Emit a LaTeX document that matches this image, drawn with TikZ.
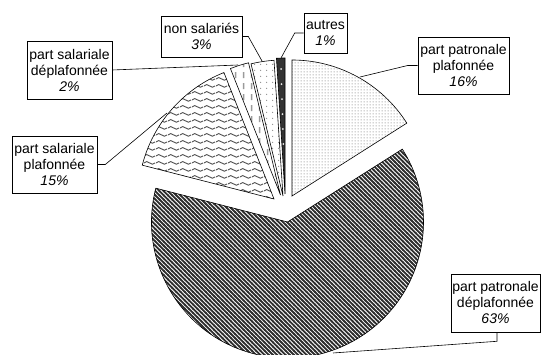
\documentclass[tikz,border=0pt]{standalone}
\usepackage{fontspec}
\setmainfont{Liberation Sans}
\usetikzlibrary{patterns}
\definecolor{stripegray}{HTML}{2E2E2E}
\definecolor{dotgray}{HTML}{8C8C8C}
\definecolor{wavegray}{HTML}{4E4E4E}
\definecolor{dashgray}{HTML}{9A9A9A}
\definecolor{darkstrip}{HTML}{333333}
\pgfdeclarepatternformonly{fineDots}{\pgfpointorigin}{\pgfqpoint{3pt}{3pt}}{\pgfqpoint{3pt}{3pt}}{%
  \pgfpathcircle{\pgfqpoint{1.5pt}{1.5pt}}{0.7pt}\pgfusepath{fill}}
\pgfdeclarepatternformonly{sparseDots}{\pgfpointorigin}{\pgfqpoint{6pt}{6pt}}{\pgfqpoint{6pt}{6pt}}{%
  \pgfpathcircle{\pgfqpoint{3pt}{3pt}}{0.8pt}\pgfusepath{fill}}
\pgfdeclarepatternformonly{nwStripes}{\pgfqpoint{-1pt}{-1pt}}{\pgfqpoint{5.2pt}{5.2pt}}{\pgfqpoint{4.2pt}{4.2pt}}{%
  \pgfsetlinewidth{1.8pt}\pgfpathmoveto{\pgfqpoint{-0.5pt}{4.7pt}}\pgfpathlineto{\pgfqpoint{4.7pt}{-0.5pt}}\pgfusepath{stroke}}
\pgfdeclarepatternformonly{waveRows}{\pgfpointorigin}{\pgfqpoint{12pt}{7pt}}{\pgfqpoint{12pt}{7pt}}{%
  \pgfsetlinewidth{1pt}\pgfpathmoveto{\pgfqpoint{0pt}{3.5pt}}%
  \pgfpathsine{\pgfpoint{3pt}{1.5pt}}\pgfpathcosine{\pgfpoint{3pt}{-1.5pt}}%
  \pgfpathsine{\pgfpoint{3pt}{-1.5pt}}\pgfpathcosine{\pgfpoint{3pt}{1.5pt}}\pgfusepath{stroke}}
\pgfdeclarepatternformonly{vDashes}{\pgfpointorigin}{\pgfqpoint{8pt}{11pt}}{\pgfqpoint{8pt}{11pt}}{%
  \pgfsetlinewidth{1.5pt}\pgfpathmoveto{\pgfqpoint{4pt}{2pt}}\pgfpathlineto{\pgfqpoint{4pt}{8.5pt}}\pgfusepath{stroke}}
\begin{document}
\begin{tikzpicture}[x=1pt,y=1pt,
  slice/.style={draw=black, line width=0.6pt},
  lbl/.style={draw=black, fill=white, line width=0.6pt, align=center,
    font=\fontsize{14}{16}\selectfont, inner sep=0pt},
  leader/.style={draw=black, line width=0.6pt}]
\useasboundingbox (0,0) rectangle (541,355);
% 63 %
\path[slice, pattern=nwStripes, pattern color=stripegray]
  (287.5,133) -- ++(165.6:136) arc[start angle=165.6, end angle=392.4, radius=136] -- cycle;
% 16 %
\path[slice, pattern=fineDots, pattern color=dotgray]
  (292,159) -- ++(32.4:136) arc[start angle=32.4, end angle=90, radius=136] -- cycle;
% 15 %
\path[slice, pattern=waveRows, pattern color=wavegray]
  (274,156) -- ++(111.6:136) arc[start angle=111.6, end angle=165.6, radius=136] -- cycle;
% 2 %
\path[slice, pattern=vDashes, pattern color=dashgray]
  (280.5,160) -- ++(103.6:136) arc[start angle=103.6, end angle=111.6, radius=136] -- cycle;
% 3 %
\path[slice, pattern=sparseDots, pattern color=dotgray]
  (283,159) -- ++(93.8:136) arc[start angle=93.8, end angle=103.6, radius=136] -- cycle;
% 1 %
\path[slice, fill=darkstrip]
  (285,161) -- ++(90:136) arc[start angle=90, end angle=93.6, radius=136] -- cycle;
\foreach \d in {125,110,95,80,65,50} {
  \fill[white!85!gray] (285,161) ++(91.8:\d) circle[radius=1pt];
}
% label boxes
\node[lbl, minimum width=81pt, minimum height=41pt] (lns) at (201.5,318.5) {non salariés\\\textit{3\%}};
\node[lbl, minimum width=43pt, minimum height=40pt] (lau) at (325.5,322) {autres\\\textit{1\%}};
\node[lbl, minimum width=91pt, minimum height=57pt] (lpp) at (463.5,289.5) {part patronale\\plafonnée\\\textit{16\%}};
\node[lbl, minimum width=85pt, minimum height=58pt] (lsd) at (69.5,285) {part salariale\\déplafonnée\\\textit{2\%}};
\node[lbl, minimum width=85pt, minimum height=57pt] (lsp) at (54.5,190.5) {part salariale\\plafonnée\\\textit{15\%}};
\node[lbl, minimum width=89pt, minimum height=58pt] (lpd) at (495.5,52) {part patronale\\déplafonnée\\\textit{63\%}};
% leader end points on the arcs
\coordinate (ans) at (262,294);
\coordinate (aau) at (281,297);
\coordinate (app) at (360,278);
\coordinate (asd) at (238,290);
\coordinate (asp) at (167,242);
\coordinate (apd) at (333,2);
% leaders
\draw[leader] (lns.east) -- ++(6,0) -- (ans);
\draw[leader] (lau.west) -- ++(-9,0) -- (aau);
\draw[leader] (lpp.west) -- ++(-10,0) -- (app);
\draw[leader] (lsd.east) -- (asd);
\draw[leader] (lsp.east) -- ++(8,0) -- (asp);
\draw[leader] (lpd.south) ++(1.5,0) coordinate (lpdb) -- ++(0,-9) -- (apd);
\end{tikzpicture}
\end{document}
